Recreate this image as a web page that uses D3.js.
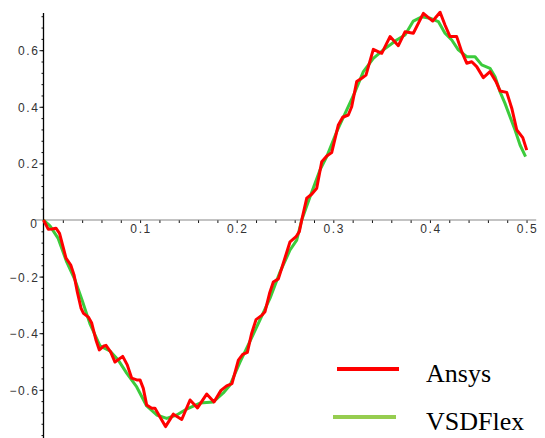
<!DOCTYPE html>
<html>
<head>
<meta charset="utf-8">
<script src="https://cdn.jsdelivr.net/npm/d3@7"></script>
<style>
  body { margin: 0; background: #fff; }
  .lbl { font-family: "Liberation Sans", Arial, sans-serif; font-size: 12px; letter-spacing: 1.6px; fill: #333; }
  .legend-label { font-family: "Liberation Serif", "Times New Roman", serif; font-size: 26px; fill: #000; }
</style>
</head>
<body>
<svg id="chart"></svg>
<script>
const width = 545;
const height = 438;

// tick labels
const xTicks = [0.1, 0.2, 0.3, 0.4, 0.5];
const yTicks = [-0.6, -0.4, -0.2, 0.2, 0.4, 0.6];

// Ansys (red)
const ansysX = [0, 0.005, 0.0088, 0.0129, 0.0166, 0.0202, 0.0233, 0.0282, 0.0316, 0.035, 0.0388, 0.0414, 0.0464, 0.0499,
  0.0543, 0.0578, 0.0626, 0.0647, 0.0696, 0.074, 0.082, 0.0867, 0.0913, 0.0965, 0.0999, 0.1033, 0.1068, 0.112, 0.1154,
  0.1206, 0.1263, 0.1344, 0.1431, 0.1517, 0.1594, 0.1689, 0.1765, 0.1837, 0.1896, 0.1951, 0.2017, 0.2062, 0.211, 0.2155,
  0.22, 0.2262, 0.2293, 0.234, 0.2379, 0.2431, 0.2482, 0.2552, 0.2614, 0.2648, 0.2673, 0.2725, 0.2776, 0.2828, 0.288,
  0.2932, 0.2983, 0.3052, 0.3097, 0.3155, 0.319, 0.3242, 0.3294, 0.3338, 0.3414, 0.3501, 0.3587, 0.3673, 0.3742, 0.3828,
  0.3932, 0.4029, 0.4105, 0.4156, 0.4208, 0.4277, 0.4329, 0.4381, 0.4433, 0.4484, 0.4553, 0.4622, 0.4684, 0.4726, 0.4795,
  0.4847, 0.4899, 0.4961, 0.5002];
const ansysY = [0, -0.033, -0.032, -0.029, -0.047, -0.094, -0.135, -0.159, -0.194, -0.254, -0.311, -0.33, -0.343, -0.364,
  -0.424, -0.459, -0.445, -0.443, -0.467, -0.502, -0.482, -0.512, -0.559, -0.565, -0.565, -0.595, -0.654, -0.665, -0.665,
  -0.696, -0.73, -0.686, -0.705, -0.636, -0.664, -0.615, -0.643, -0.602, -0.586, -0.578, -0.495, -0.475, -0.468, -0.4,
  -0.352, -0.336, -0.324, -0.259, -0.219, -0.208, -0.153, -0.077, -0.059, -0.041, 0, 0.077, 0.091, 0.112, 0.206,
  0.226, 0.238, 0.336, 0.363, 0.371, 0.4, 0.489, 0.501, 0.512, 0.603, 0.589, 0.648, 0.616, 0.665, 0.66,
  0.73, 0.703, 0.734, 0.689, 0.648, 0.648, 0.595, 0.554, 0.559, 0.542, 0.503, 0.524, 0.489, 0.456, 0.451,
  0.395, 0.318, 0.291, 0.247];

// VSDFlex (green)
const vsdX = [0, 0.0067, 0.015, 0.024, 0.0326, 0.0399, 0.0481, 0.0585, 0.0688, 0.0774, 0.0861, 0.0965, 0.1068, 0.1172,
  0.1275, 0.1379, 0.1482, 0.162, 0.1758, 0.1861, 0.1931, 0.2034, 0.2138, 0.2241, 0.2345, 0.2448, 0.2552, 0.2621, 0.2673,
  0.2759, 0.2862, 0.2932, 0.3035, 0.3139, 0.3225, 0.3311, 0.3414, 0.3518, 0.3656, 0.3742, 0.3828, 0.3915, 0.4001, 0.4087,
  0.4156, 0.4226, 0.4294, 0.4381, 0.4467, 0.4536, 0.4622, 0.4674, 0.4726, 0.4777, 0.4829, 0.4881, 0.4933, 0.499];
const vsdY = [0, -0.021, -0.064, -0.148, -0.212, -0.283, -0.367, -0.445, -0.463, -0.495, -0.541, -0.59, -0.657, -0.689,
  -0.701, -0.689, -0.668, -0.647, -0.643, -0.611, -0.583, -0.502, -0.428, -0.353, -0.276, -0.184, -0.106, -0.071, 0,
  0.082, 0.177, 0.224, 0.312, 0.389, 0.453, 0.524, 0.571, 0.601, 0.636, 0.654, 0.703, 0.718, 0.713, 0.701,
  0.66, 0.636, 0.601, 0.577, 0.577, 0.548, 0.536, 0.506, 0.453, 0.412, 0.365, 0.318, 0.265, 0.224];

const margin = { top: 13, right: 8.8, bottom: 0, left: 43.5 };

const svg = d3.select("#chart")
  .attr("width", width)
  .attr("height", height);

const x = d3.scaleLinear()
  .domain([0, 0.51])
  .range([margin.left, width - margin.right]);

const y = d3.scaleLinear()
  .domain([-0.7703, 0.7314])
  .range([height - margin.bottom, margin.top]);

// x axis: gray line, little ticks every 0.02
const xMinor = d3.range(1, 26).map(i => +(i * 0.02).toFixed(2));
const xAxis = svg.append("g")
  .attr("transform", `translate(0, ${y(0)})`)
  .call(d3.axisBottom(x).tickValues(xMinor).tickSize(3).tickFormat(""));
xAxis.select(".domain").remove();
xAxis.selectAll(".tick line").attr("stroke", "#333");

svg.append("line")
  .attr("x1", x(0) - 8.5)
  .attr("x2", x(0.51))
  .attr("y1", y(0))
  .attr("y2", y(0))
  .attr("stroke", "#888")
  .attr("stroke-width", 1.2);

svg.selectAll(".xlbl")
  .data(xTicks)
  .enter()
  .append("text")
  .attr("class", "lbl")
  .attr("x", d => x(d) + 1)
  .attr("y", y(0) + 13.5)
  .attr("text-anchor", "middle")
  .text(d => d3.format(".1f")(d));

// y axis: black line, minor every 0.04
const yMinor = d3.range(-19, 19).map(i => +(i * 0.04).toFixed(2)).filter(v => v !== 0);
const yAxisMinor = svg.append("g")
  .attr("transform", `translate(${x(0)}, 0)`)
  .call(d3.axisLeft(y).tickValues(yMinor).tickSize(2).tickFormat(""));
yAxisMinor.select(".domain").remove();

const yAxis = svg.append("g")
  .attr("transform", `translate(${x(0)}, 0)`)
  .call(d3.axisLeft(y).tickValues(yTicks).tickSize(4).tickFormat(""));
yAxis.select(".domain").remove();
svg.selectAll(".tick line").attr("stroke", "#111");

svg.append("line")
  .attr("x1", x(0))
  .attr("x2", x(0))
  .attr("y1", margin.top)
  .attr("y2", height)
  .attr("stroke", "#000")
  .attr("stroke-width", 1.3);

svg.selectAll(".ylbl")
  .data(yTicks)
  .enter()
  .append("text")
  .attr("class", "lbl")
  .attr("x", x(0) - 4)
  .attr("y", d => y(d) + 5)
  .attr("text-anchor", "end")
  .text(d => d3.format(".1f")(d));

// origin label
svg.append("text")
  .attr("class", "lbl")
  .attr("x", x(0) - 5)
  .attr("y", y(0) + 8)
  .attr("text-anchor", "end")
  .text("0");

// curves
const line = d3.line()
  .x(d => x(d[0]))
  .y(d => y(d[1]));

svg.append("path")
  .datum(vsdX.map((v, i) => [v, vsdY[i]]))
  .attr("fill", "none")
  .attr("stroke", "#3ccb3c")
  .attr("stroke-width", 3)
  .attr("stroke-linejoin", "round")
  .attr("d", line);

svg.append("path")
  .datum(ansysX.map((v, i) => [v, ansysY[i]]))
  .attr("fill", "none")
  .attr("stroke", "#ff0000")
  .attr("stroke-width", 3)
  .attr("stroke-linejoin", "round")
  .attr("d", line);

// legend
const legend = [
  { name: "Ansys", color: "#ff0000", x1: 337, x2: 399, y: 369 },
  { name: "VSDFlex", color: "#96cd50", x1: 333, x2: 396, y: 417 }
];

const lg = svg.selectAll(".legend")
  .data(legend)
  .enter()
  .append("g");

lg.append("line")
  .attr("x1", d => d.x1)
  .attr("x2", d => d.x2)
  .attr("y1", d => d.y)
  .attr("y2", d => d.y)
  .attr("stroke", d => d.color)
  .attr("stroke-width", 4);

lg.append("text")
  .attr("class", "legend-label")
  .attr("x", 426)
  .attr("y", d => d.y + 13)
  .text(d => d.name);
</script>
</body>
</html>
